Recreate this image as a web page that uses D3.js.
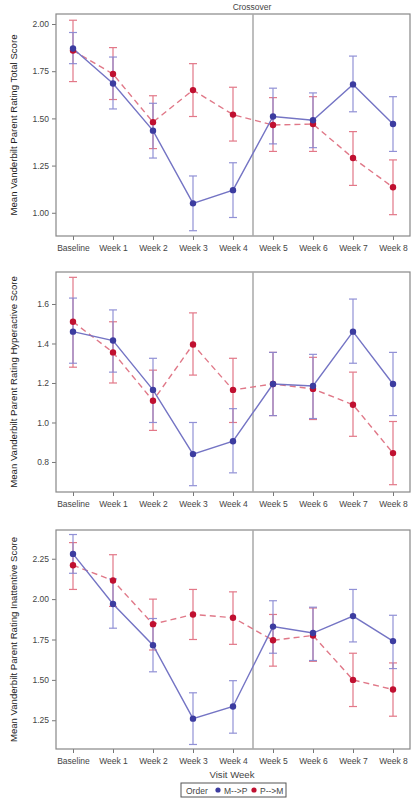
<!DOCTYPE html>
<html><head><meta charset="utf-8">
<script src="https://cdn.jsdelivr.net/npm/d3@7"></script>
<style>body{margin:0;background:#fff}svg{display:block}text{font-family:"Liberation Sans",Arial,sans-serif}</style>
</head><body>
<script>
const weeks = ["Baseline","Week 1","Week 2","Week 3","Week 4","Week 5","Week 6","Week 7","Week 8"];
const seriesNames = ["M-->P","P-->M"];

const totalMP   = [1.87,1.685,1.435,1.05,1.12,1.51,1.49,1.68,1.47];
const totalMPlo = [1.79,1.55,1.29,0.905,0.975,1.365,1.345,1.535,1.325];
const totalMPhi = [1.955,1.825,1.58,1.195,1.265,1.66,1.635,1.83,1.615];
const totalPM   = [1.86,1.735,1.48,1.65,1.52,1.465,1.47,1.29,1.135];
const totalPMlo = [1.695,1.6,1.34,1.51,1.38,1.325,1.325,1.145,0.99];
const totalPMhi = [2.02,1.875,1.62,1.79,1.665,1.61,1.615,1.43,1.28];

const hyperMP   = [1.46,1.415,1.165,0.84,0.905,1.195,1.185,1.46,1.195];
const hyperMPlo = [1.3,1.255,1.0,0.68,0.745,1.035,1.02,1.3,1.035];
const hyperMPhi = [1.63,1.57,1.325,1.0,1.07,1.355,1.345,1.625,1.355];
const hyperPM   = [1.51,1.355,1.11,1.395,1.165,1.195,1.17,1.09,0.845];
const hyperPMlo = [1.28,1.2,0.96,1.24,1.0,1.035,1.015,0.93,0.685];
const hyperPMhi = [1.735,1.51,1.265,1.555,1.325,1.355,1.33,1.255,1.005];

const inattMP   = [2.28,1.97,1.715,1.26,1.335,1.83,1.79,1.895,1.74];
const inattMPlo = [2.16,1.82,1.55,1.1,1.17,1.665,1.62,1.735,1.57];
const inattMPhi = [2.4,2.125,1.88,1.42,1.495,1.99,1.95,2.06,1.9];
const inattPM   = [2.21,2.115,1.845,1.905,1.885,1.745,1.775,1.5,1.44];
const inattPMlo = [2.06,1.955,1.685,1.75,1.72,1.585,1.615,1.335,1.275];
const inattPMhi = [2.35,2.275,2.0,2.06,2.045,1.905,1.945,1.665,1.605];

const totalTicks = [1.00,1.25,1.50,1.75,2.00];
const hyperTicks = [0.8,1.0,1.2,1.4,1.6];
const inattTicks = [1.25,1.50,1.75,2.00,2.25];

const panels = [
  {title:"Mean Vanderbilt Parent Rating Total Score", top:14, bottom:236, domain:[0.877,2.053], ticks:totalTicks, fmt:".2f",
   mp:totalMP, mplo:totalMPlo, mphi:totalMPhi, pm:totalPM, pmlo:totalPMlo, pmhi:totalPMhi},
  {title:"Mean Vanderbilt Parent Rating Hyperactive Score", top:272, bottom:492, domain:[0.648,1.762], ticks:hyperTicks, fmt:".1f",
   mp:hyperMP, mplo:hyperMPlo, mphi:hyperMPhi, pm:hyperPM, pmlo:hyperPMlo, pmhi:hyperPMhi},
  {title:"Mean Vanderbilt Parent Rating Inattentive Score", top:530, bottom:749, domain:[1.072,2.428], ticks:inattTicks, fmt:".2f",
   mp:inattMP, mplo:inattMPlo, mphi:inattMPhi, pm:inattPM, pmlo:inattPMlo, pmhi:inattPMhi}
];

const W = 415, H = 800, left = 56, right = 410;
const blueDot = "#3c3ca0", blueLine = "#7474c4", blueBar = "#8686d2";
const redDot = "#c01030", redLine = "#e07888", redBar = "#e06a7c";

const svg = d3.select("body").append("svg").attr("width", W).attr("height", H);
const x = d3.scalePoint().domain(weeks).range([left, right]).padding(0.425);

svg.append("text").attr("x", 252).attr("y", 10).attr("text-anchor","middle")
  .attr("font-size", 8.5).attr("fill","#444").text("Crossover");

panels.forEach(p => {
  const y = d3.scaleLinear().domain(p.domain).range([p.bottom, p.top]);
  const g = svg.append("g");

  // y axis
  const ya = g.append("g").attr("transform", `translate(${left},0)`)
    .call(d3.axisLeft(y).tickValues(p.ticks).tickFormat(d3.format(p.fmt)).tickSize(4).tickSizeOuter(0));
  ya.select(".domain").remove();
  ya.selectAll("line").attr("stroke","#777");
  ya.selectAll("text").attr("font-size", 8.5).attr("fill","#444").attr("font-family","Liberation Sans, Arial, sans-serif");

  // x axis
  const xa = g.append("g").attr("transform", `translate(0,${p.bottom})`)
    .call(d3.axisBottom(x).tickSize(4).tickSizeOuter(0));
  xa.select(".domain").remove();
  xa.selectAll("line").attr("stroke","#777");
  xa.selectAll("text").attr("font-size", 8.5).attr("fill","#444").attr("dy","0.9em").attr("font-family","Liberation Sans, Arial, sans-serif");

  // frame
  g.append("rect").attr("x", left).attr("y", p.top).attr("width", right-left).attr("height", p.bottom-p.top)
    .attr("fill","none").attr("stroke","#888").attr("stroke-width",1.2);

  // crossover line
  const cx = (x("Week 4") + x("Week 5"))/2;
  g.append("line").attr("x1", cx).attr("x2", cx).attr("y1", p.top).attr("y2", p.bottom)
    .attr("stroke","#a8a8a8").attr("stroke-width",1.5);

  // y title
  g.append("text").attr("transform", `translate(14,${(p.top+p.bottom)/2}) rotate(-90)`)
    .attr("text-anchor","middle").attr("dy","0.35em").attr("font-size", 9.6).attr("fill","#222").text(p.title);

  const series = [
    {v:p.pm, lo:p.pmlo, hi:p.pmhi, dot:redDot, line:redLine, bar:redBar, dash:"6,4"},
    {v:p.mp, lo:p.mplo, hi:p.mphi, dot:blueDot, line:blueLine, bar:blueBar, dash:null}
  ];
  // error bars first
  series.forEach(s => {
    const eb = g.append("g").attr("stroke", s.bar).attr("stroke-width",1.2).attr("opacity",0.9);
    weeks.forEach((w,i) => {
      const xx = x(w);
      eb.append("line").attr("x1",xx).attr("x2",xx).attr("y1",y(s.lo[i])).attr("y2",y(s.hi[i]));
      eb.append("line").attr("x1",xx-4).attr("x2",xx+4).attr("y1",y(s.lo[i])).attr("y2",y(s.lo[i]));
      eb.append("line").attr("x1",xx-4).attr("x2",xx+4).attr("y1",y(s.hi[i])).attr("y2",y(s.hi[i]));
    });
  });
  series.forEach(s => {
    const line = d3.line().x((d,i)=>x(weeks[i])).y(d=>y(d));
    g.append("path").attr("d", line(s.v)).attr("fill","none").attr("stroke", s.line)
      .attr("stroke-width",1.4).attr("stroke-dasharray", s.dash);
  });
  series.forEach(s => {
    g.append("g").selectAll("circle").data(s.v).join("circle")
      .attr("cx",(d,i)=>x(weeks[i])).attr("cy",d=>y(d)).attr("r",3.2).attr("fill", s.dot);
  });
});

// x title
svg.append("text").attr("x", 232).attr("y", 778).attr("text-anchor","middle")
  .attr("font-size", 9.6).attr("fill","#444").text("Visit Week");

// legend
const lg = svg.append("g");
lg.append("rect").attr("x",181).attr("y",783).attr("width",105).attr("height",14)
  .attr("fill","#fff").attr("stroke","#555").attr("stroke-width",1);
lg.append("text").attr("x",186).attr("y",793.5).attr("font-size",8.5).attr("fill","#444").text("Order");
lg.append("circle").attr("cx",218).attr("cy",790).attr("r",2.6).attr("fill",blueDot);
lg.append("text").attr("x",224).attr("y",793.5).attr("font-size",8.5).attr("fill","#444").text(seriesNames[0]);
lg.append("circle").attr("cx",254).attr("cy",790).attr("r",2.6).attr("fill",redDot);
lg.append("text").attr("x",260).attr("y",793.5).attr("font-size",8.5).attr("fill","#444").text(seriesNames[1]);
</script>
</body></html>
